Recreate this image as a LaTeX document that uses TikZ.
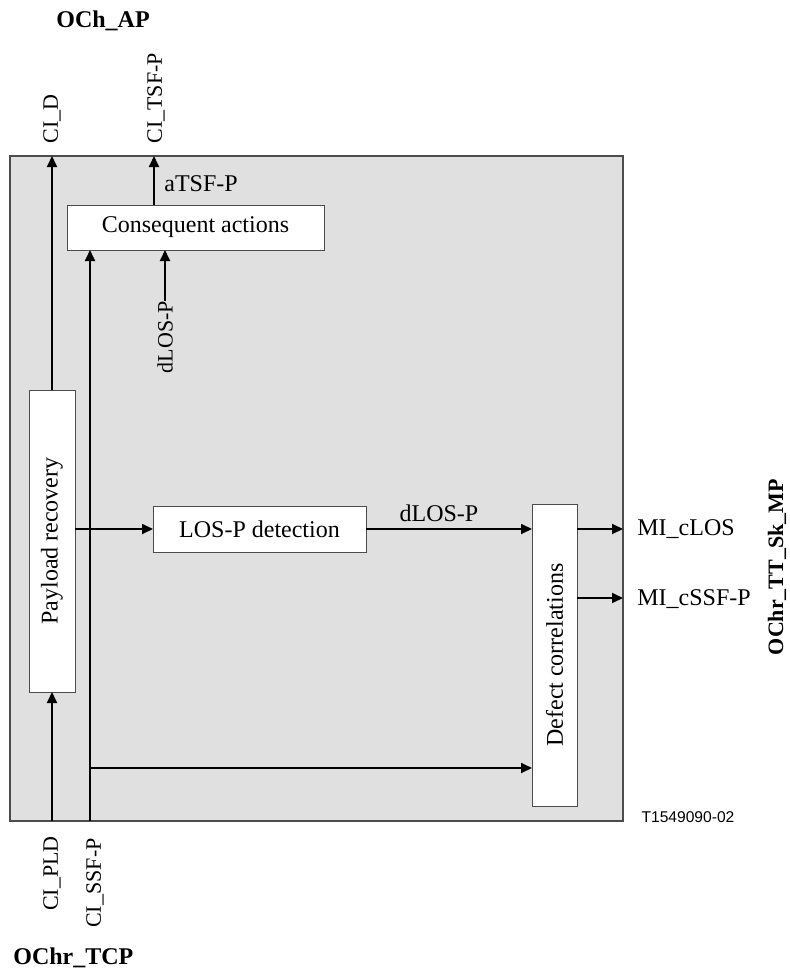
\documentclass[tikz,border=0pt]{standalone}
\usepackage{fontspec}
\setmainfont{Liberation Serif}
\setsansfont{Liberation Sans}
\usepackage{graphicx}
\usetikzlibrary{arrows.meta}

\begin{document}
\begin{tikzpicture}[x=0.5pt, y=-0.5pt,
  mainbox/.style={rectangle, draw=black!70, fill=black!12, line width=0.6pt, outer sep=0pt},
  box/.style={rectangle, draw=black!70, fill=white, line width=0.5pt, outer sep=0pt, inner sep=0pt, font=\fontsize{12}{14}\selectfont},
  arr/.style={-{Triangle[length=5.5pt,width=5pt]}, line width=0.9pt},
  lbl/.style={inner sep=0pt, font=\fontsize{12}{14}\selectfont},
  vlbl/.style={rotate=90, inner sep=0pt, font=\fontsize{11}{13}\selectfont},
  ttl/.style={inner sep=0pt, font=\bfseries\fontsize{12}{14}\selectfont}]
\useasboundingbox (0,0) rectangle (790,971);

\node (main) [mainbox, minimum width=306.5pt, minimum height=332.5pt] at (316.5,488.5) {};
\node (cons) [box, minimum width=128.5pt, minimum height=22.5pt] at (195.5,227.5) {Consequent actions};
\node (payload) [box, minimum width=23pt, minimum height=151pt] at (52,541) {\rotatebox{90}{Payload recovery}};
\node (los) [box, minimum width=106.5pt, minimum height=23pt] at (259.5,529) {LOS-P detection};
\node (defect) [box, minimum width=22.5pt, minimum height=151pt] at (554.5,655) {\rotatebox{90}{Defect correlations}};

\coordinate (tsf) at (154,156);
\coordinate (ssf) at (90,821);
\coordinate (pld) at (52,821);
\coordinate (ssfb) at (90,768);
\coordinate (cssf) at (600,598);

% port labels
\node (ap) [ttl, anchor=west] at (56,21) {OCh\_AP};
\node (cidl) [vlbl, anchor=west] at (52,144) {CI\_D};
\node (ctsfl) [vlbl, anchor=west] at (156,144) {CI\_TSF-P};
\node (pldl) [vlbl, anchor=east] at (52,836) {CI\_PLD};
\node (ssfl) [vlbl, anchor=east] at (95,838) {CI\_SSF-P};
\node (tcp) [ttl, anchor=west] at (13,958) {OChr\_TCP};
\node (sk) [ttl, rotate=90, font=\bfseries\fontsize{11}{13}\selectfont] at (777,567) {OChr\_TT\_Sk\_MP};
\node (closl) [lbl, anchor=west] at (637,529) {MI\_cLOS};
\node (cssfl) [lbl, anchor=west] at (637,599) {MI\_cSSF-P};

% inner labels
\node (atsf) [lbl, anchor=west] at (164,184) {aTSF-P};
\node (dlosv) [vlbl] at (165,337) {dLOS-P};
\node (dlosh) [lbl] at (439,513) {dLOS-P};
\node (fig) [inner sep=0pt, font=\sffamily\fontsize{7.8}{9}\selectfont] at (688,817) {T1549090-02};

\draw[arr] (payload.north) -- (payload.north |- main.north);
\draw[arr] (tsf |- cons.north) -- (tsf);
\draw[arr] (ssf) -- (ssf |- cons.south);
\draw[arr] (dlosv.east) -- (dlosv.east |- cons.south);
\draw[arr] (pld) -- (payload.south);
\draw[arr] (payload.east |- los.west) -- (los.west);
\draw[arr] (los.east) -- (los.east -| defect.west);
\draw[arr] (ssfb) -- (ssfb -| defect.west);
\draw[arr] (defect.east |- los.east) -- (los.east -| main.east);
\draw[arr] (defect.east |- cssf) -- (cssf -| main.east);
\end{tikzpicture}
\end{document}
